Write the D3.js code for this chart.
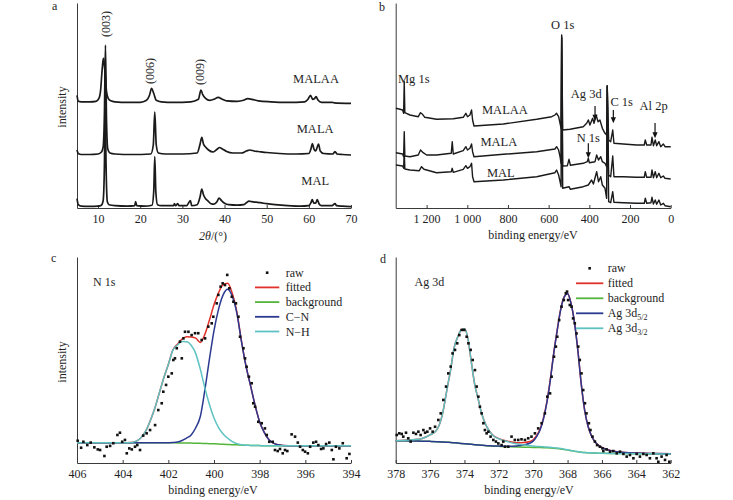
<!DOCTYPE html>
<html><head><meta charset="utf-8">
<script src="https://cdn.jsdelivr.net/npm/d3@7"></script>
<style>body{margin:0;background:#fff}</style>
</head><body>
<script>
// ---------------- DATA ----------------
// Panel a: XRD patterns [2theta, intensity above own baseline]
const xrdNames = ["MAL", "MALA", "MALAA"];
const xrdOffsets = [1.3, 53, 104.7];
const xrdTicks = [10, 20, 30, 40, 50, 60, 70];
const xrdPeakLabels = ["(003)", "(006)", "(009)"];
const xrdMAL = [[5,8],[5.3,2],[6,0.5],[8,0.3],[10,0.5],[10.8,1.5],[11.2,6],[11.5,40],[11.7,100],[11.9,40],[12.2,5],[12.6,2],[14,1],[17,0.5],[18.7,1],[18.9,5],[19.2,1],[21,0.5],[22.8,1.5],[23.2,15],[23.45,50],[23.7,15],[24.1,2],[25,1],[27.9,1],[28.1,3],[28.4,1],[28.9,3],[29.2,1],[31,1],[31.9,6],[32.2,1],[33.5,2],[34.2,10],[34.6,17.7],[35,12],[35.5,8],[36,6],[36.8,3],[37.5,2.5],[38.2,5],[38.7,8.5],[39.3,6],[40,3.5],[41,2],[43,1.5],[44.5,2],[45.2,4],[45.8,5.5],[46.5,5],[47.5,4.5],[48.5,4],[50,3],[52,2],[55,1],[58,0.5],[60,1],[60.5,4],[60.8,7],[61.2,3.5],[61.6,3.5],[62,7],[62.4,3],[63,1],[65.5,1],[66.2,3],[66.6,1],[68,0.5],[70,0]];
const xrdMALA = [[5,5],[5.3,1.5],[6,0.5],[8,0.5],[10,1],[10.8,3],[11.2,8],[11.5,40],[11.75,110],[12,35],[12.3,6],[12.8,2],[14,1],[18,0.5],[22.5,1],[23.1,10],[23.45,43],[23.8,10],[24.3,2],[26,1],[30,1],[33.5,2],[34.2,11],[34.6,17.7],[35,11],[35.5,8],[36.2,5],[37.3,3],[38.3,6],[38.8,7.5],[39.5,6],[40.5,3.5],[42,2],[44,2],[45.2,4],[46,5],[47,4],[48,3.5],[50,2.5],[53,1.5],[57,1],[60,1.5],[60.5,6],[60.85,11.5],[61.2,6],[61.6,4],[62,8],[62.3,11],[62.7,4],[63.5,1.5],[65.7,1],[66.2,3.5],[66.7,1],[68,0.5],[70,0]];
const xrdMALAA = [[5,8],[5.3,2],[6,1.5],[8,1.5],[9.5,2],[10.2,5],[10.6,13],[10.9,30],[11.15,42],[11.3,45],[11.45,40],[11.7,28],[12,12],[12.4,5],[13,2.5],[14,1.5],[17,1],[20,1],[21.5,3],[22.2,8],[22.7,15],[23.2,10],[23.8,3],[25,1.5],[28,1],[32,1.5],[33.8,4],[34.4,13.3],[34.8,9],[35.5,5],[36.5,3],[37.5,4],[38.5,6],[39.5,4],[40.5,2.5],[43,2],[44.5,3],[45.5,4.7],[46.5,4],[48,2.5],[51,1.5],[55,1],[59,1.5],[59.8,4],[60.4,8],[60.9,4],[61.3,4.5],[61.7,6.7],[62.2,3],[63,1],[65.5,1],[66,0.5],[70,0]];

// Panel b: XPS survey [binding energy, intensity]
const surveyTicks = [1200, 1000, 800, 600, 400, 200, 0];
const surveyNames = ["MAL", "MALA", "MALAA"];
const surveyMALAA = [[1351,99.7],[1331,98.7],[1318,98],[1313,94.7],[1310,126.3],[1307,95.3],[1282,93],[1241,91.3],[1230,95.3],[1220,93.7],[1209,90.7],[1151,88.7],[1069,89.3],[1020,90.7],[1007,94.7],[999,91.3],[987,93],[979,98],[974,88],[967,82],[823,84],[659,88.7],[585,91.3],[569,93],[561,94.7],[551,91.3],[544,84.7],[539,79.7],[536,173],[531,78],[495,78.7],[430,81.3],[413,84.7],[405,88],[397,83],[384,89.7],[377,84.7],[367,93],[357,86.3],[348,88],[336,79.7],[323,74.7],[315,73],[312,122],[305,68],[295,66.3],[285,78],[279,64.7],[233,64],[168,63],[130,63],[125,68],[118,63],[97,63],[92,70.7],[85,62.3],[76,68],[69,62.3],[58,66.3],[49,61.3],[36,64],[28,61.3],[0,61.3]];
const surveyMALA = [[1351,55.3],[1318,54],[1313,51.3],[1310,76.3],[1307,52],[1282,51.3],[1241,53],[1230,58],[1217,55.3],[1200,53],[1151,53],[1079,54.7],[1074,66.3],[1069,54],[1020,57.3],[1007,61.3],[999,58],[987,59.7],[979,64],[974,56.3],[967,51.3],[823,53.7],[659,56.3],[569,59],[561,61.3],[551,58],[544,51.3],[539,44.7],[536,171.3],[531,42],[508,42.3],[500,48.7],[493,42.7],[430,44.7],[410,46.3],[405,49.7],[400,45.3],[372,46.3],[364,53],[355,48],[344,51.3],[336,46.3],[323,44.7],[315,41.3],[312,122],[305,33],[295,31.3],[285,52],[279,31.3],[233,31.3],[168,30.7],[130,30.7],[125,36.3],[118,30.7],[97,30.7],[92,38],[85,30.3],[76,36.3],[69,30.3],[58,34.7],[49,30.3],[36,32],[28,29.7],[0,29]];
const surveyMAL = [[1351,43],[1318,42],[1313,39.7],[1310,56.3],[1307,39],[1282,38],[1236,37.3],[1225,41.3],[1213,38.7],[1151,35.3],[1079,36.3],[1074,39.7],[1069,35.7],[1020,38.7],[1007,42.3],[999,39.7],[987,41.3],[979,44.7],[974,31.3],[967,26.3],[823,28],[659,31.3],[569,35.3],[561,38],[551,33],[544,26.3],[539,21.3],[536,169.7],[531,19.7],[500,21.3],[493,18.7],[430,21.3],[405,23],[389,28],[380,24],[364,36.3],[355,26.3],[344,31.3],[336,23],[323,19.7],[315,9.7],[312,122],[305,6.3],[295,5.3],[285,16.3],[279,5.7],[233,5.3],[168,4.7],[130,4.7],[125,9.7],[118,4.7],[97,5.3],[92,10.7],[85,4],[76,8],[69,3.7],[58,8],[49,3],[36,4.7],[28,2.3],[0,1.3]];

// Panel c: N 1s high-resolution
const n1sTicks = [406, 404, 402, 400, 398, 396, 394];
const n1sBE = [406,405,404,403.6,403.4,403.2,403.0,402.8,402.6,402.4,402.2,402.0,401.8,401.6,401.4,401.2,401.0,400.8,400.6,400.4,400.2,400.0,399.8,399.6,399.4,399.2,399.0,398.8,398.6,398.4,398.2,398.0,397.8,397.6,397.4,397.2,397.0,396.5,396,395,394];
const n1sBackground = [9.8,9.8,9.8,9.8,9.8,9.8,9.8,9.8,9.8,9.8,9.8,9.8,9.8,9.75,9.75,9.7,9.65,9.6,9.55,9.45,9.4,9.3,9.2,9.1,9.0,8.9,8.8,8.7,8.65,8.55,8.5,8.45,8.4,8.4,8.4,8.35,8.35,8.35,8.35,8.35,8.35];
const n1sNH = [9.8,9.8,9.8,10.0,10.6,12.3,15.3,20.3,26.3,33.8,41.3,47.8,54.8,57.25,58.95,58.9,57.15,53.1,45.55,36.45,28.4,21.8,17.2,14.1,12.0,10.4,9.4,8.9,8.65,8.55,8.5,8.45,8.4,8.4,8.4,8.35,8.35,8.35,8.35,8.35,8.35];
const n1sCN = [9.8,9.8,9.8,9.8,9.8,9.8,9.8,9.8,9.8,9.8,9.8,9.85,9.95,10.2,10.95,12.1,13.65,17.1,22.55,35.45,50.4,64.3,74.7,81.6,84.3,80.9,72.8,59.2,47.15,37.55,28.0,19.95,14.9,11.4,9.6,8.85,8.55,8.35,8.35,8.35,8.35];
const n1sFitted = [9.8,9.8,9.8,10.0,10.6,12.3,15.3,20.3,26.3,33.8,41.3,47.85,54.95,57.7,60.15,61.3,61.15,60.6,58.55,62.45,69.4,76.8,82.7,86.6,87.3,82.4,73.4,59.4,47.15,37.55,28.0,19.95,14.9,11.4,9.6,8.85,8.55,8.35,8.35,8.35,8.35];
const n1sRaw = [[405.97,10.8],[405.82,7.4],[405.72,10.3],[405.55,8.7],[405.40,9.9],[405.24,7.6],[405.09,6.6],[404.99,6.3],[404.80,3.4],[404.70,7.9],[404.55,8.3],[404.41,9.6],[404.23,13.6],[404.12,14.7],[404.02,10.3],[403.90,11.2],[403.82,4.7],[403.71,7.1],[403.60,6.6],[403.46,7.9],[403.36,8.7],[403.24,6.3],[403.10,13.3],[402.95,14.4],[402.80,16.0],[402.58,18.4],[402.44,25.7],[402.29,29.0],[402.22,34.6],[402.10,37.9],[402.0,41.9],[401.85,43.5],[401.78,50.0],[401.71,50.8],[401.63,55.7],[401.49,58.9],[401.41,50.8],[401.34,60.5],[401.27,63.7],[401.12,63.7],[400.98,62.1],[400.83,63.0],[400.69,63.0],[400.54,59.7],[400.39,60.5],[400.25,66.2],[400.10,67.8],[400.03,71.0],[399.88,77.5],[399.81,81.6],[399.71,85.6],[399.62,87.2],[399.52,86.4],[399.42,91.3],[399.33,84.8],[399.22,80.7],[399.15,78.3],[399.04,77.5],[398.93,71.0],[398.86,61.3],[398.71,55.7],[398.64,50.8],[398.57,46.7],[398.47,41.9],[398.35,38.7],[398.28,29.0],[398.20,27.3],[398.06,20.0],[397.91,19.3],[397.77,16.8],[397.69,13.6],[397.58,10.3],[397.43,10.3],[397.33,6.3],[397.21,5.8],[397.11,6.8],[396.99,4.7],[396.89,6.3],[396.79,5.8],[396.60,13.9],[396.45,12.8],[396.33,9.9],[396.23,7.9],[396.11,6.3],[396.01,5.5],[395.89,4.7],[395.79,7.9],[395.65,9.9],[395.53,10.3],[395.43,8.7],[395.31,6.8],[395.21,7.1],[395.09,9.2],[394.95,9.9],[394.84,6.3],[394.77,1.8],[394.66,7.9],[394.51,7.1],[394.36,9.6],[394.19,2.3],[394.07,4.4]];

// Panel d: Ag 3d high-resolution
const ag3dTicks = [378, 376, 374, 372, 370, 368, 366, 364, 362];
const ag3dBE = [378,377.5,377,376.5,376,375.6,375.3,375.0,374.8,374.6,374.4,374.2,374.0,373.8,373.6,373.4,373.2,373.0,372.7,372.4,372.0,371.5,371.0,370.5,370.2,370.0,369.8,369.6,369.4,369.2,369.0,368.8,368.6,368.4,368.2,368.0,367.8,367.6,367.4,367.2,367.0,366.8,366.6,366.4,366.2,366.0,365.5,365,364,363,362];
const ag3dBackground = [10.8,10.75,10.7,10.6,10.5,10.35,10.2,10.05,9.95,9.8,9.65,9.5,9.35,9.2,9.05,8.9,8.75,8.6,8.4,8.25,8.1,7.9,7.75,7.65,7.6,7.55,7.5,7.47,7.43,7.38,7.3,7.2,7.05,6.85,6.6,6.3,6.0,5.7,5.45,5.2,5.05,4.95,4.85,4.8,4.75,4.7,4.65,4.6,4.5,4.45,4.4];
const ag3d32 = [10.8,11.0,11.3,11.8,13.6,16.2,23,36.5,45.5,56,61,64.5,65.2,60.5,49,38,31,24,17.5,13.85,11.7,10.4,9.3,8.7,8.4,8.2,8.05,7.95,7.85,7.75,7.6,7.45,7.25,7.0,6.72,6.4,6.08,5.76,5.5,5.24,5.08,4.98,4.88,4.83,4.78,4.72,4.67,4.61,4.5,4.45,4.4];
const ag3d52 = [10.8,10.75,10.7,10.6,10.5,10.35,10.2,10.05,9.95,9.8,9.65,9.5,9.35,9.2,9.05,8.9,8.75,8.6,8.4,8.3,8.2,8.1,8.3,8.9,9.6,10.6,12.8,16.0,21.5,29.5,40.5,53.5,64.5,74.5,80.5,82.2,77.5,68.3,54.5,38,25.3,17.6,13,10.2,8.5,7.5,6.0,5.3,4.8,4.6,4.5];
const ag3dFitted = [10.8,11.0,11.3,11.8,13.6,16.2,23,36.5,45.5,56,61,64.5,65.2,60.5,49,38,31,24,17.5,13.9,11.8,10.6,9.85,9.95,10.4,11.25,13.35,16.48,21.92,29.87,40.8,53.75,64.7,74.65,80.62,82.3,77.58,68.36,54.55,38.04,25.33,17.63,13.03,10.23,8.53,7.52,6.02,5.31,4.8,4.6,4.5];
const ag3dRaw = [[377.94,13.6],[377.79,14.4],[377.65,14.1],[377.56,12.8],[377.40,14.7],[377.27,12.0],[377.13,10.4],[376.97,14.7],[376.82,14.1],[376.68,15.2],[376.55,13.6],[376.39,16.0],[376.29,14.7],[376.16,15.2],[376.0,16.8],[375.85,15.2],[375.71,17.6],[375.52,20.9],[375.38,24.1],[375.23,30.6],[375.07,37.1],[374.94,43.5],[374.80,46.8],[374.69,53.2],[374.55,54.9],[374.42,58.1],[374.30,62.1],[374.16,64.6],[374.01,64.6],[373.87,61.3],[373.77,58.1],[373.64,54.9],[373.52,50.0],[373.39,45.1],[373.29,37.1],[373.19,32.2],[373.10,27.3],[373.0,24.1],[372.90,19.3],[372.81,16.0],[372.71,14.4],[372.61,15.2],[372.48,12.8],[372.32,11.2],[372.17,10.4],[372.03,9.5],[371.84,8.7],[371.74,10.4],[371.64,7.9],[371.45,7.9],[371.26,12.8],[371.07,11.2],[370.87,11.2],[370.68,11.5],[370.48,11.2],[370.29,12.0],[370.10,12.8],[369.90,14.4],[369.71,16.8],[369.51,19.3],[369.32,24.1],[369.18,32.2],[369.02,33.8],[368.93,41.9],[368.79,51.6],[368.68,56.5],[368.60,61.3],[368.49,69.4],[368.35,75.9],[368.22,79.1],[368.10,82.4],[368.03,83.2],[367.97,79.1],[367.87,76.7],[367.77,75.9],[367.68,70.2],[367.58,67.8],[367.48,62.9],[367.38,56.5],[367.29,50.0],[367.19,43.5],[367.09,35.4],[366.99,29.0],[366.90,24.1],[366.76,19.3],[366.67,16.0],[366.55,12.8],[366.41,10.4],[366.28,8.7],[366.12,7.9],[365.97,7.1],[365.92,5.8],[365.73,6.6],[365.53,5.5],[365.34,5.8],[365.14,4.7],[364.95,5.5],[364.75,4.4],[364.56,3.1],[364.37,3.9],[364.17,2.3],[363.98,4.4],[363.79,3.1],[363.59,4.4],[363.40,3.9],[363.21,2.3],[363.01,4.7],[362.82,2.3],[362.72,0.6],[362.53,3.1],[362.33,1.5],[362.24,3.9],[362.08,0.6]];

// ---------------- DRAWING ----------------
const SERIF = '"Liberation Serif","Times New Roman",serif';
const INK = "#1e1e1e";
const COL = {fitted: "#e2312b", background: "#53b53a", comp1: "#2b3990", comp2: "#5ec2c2"};
const svg = d3.select("body").append("svg").attr("width", 733).attr("height", 500)
  .attr("font-family", SERIF);

function axes(x, y, ticks, fmt) {
  const gx = svg.append("g").attr("transform", `translate(0,${y.range()[0]})`)
    .call(d3.axisBottom(x).tickValues(ticks).tickFormat(fmt).tickSize(-3).tickSizeOuter(0));
  gx.attr("font-family", SERIF).attr("font-size", 12);
  gx.selectAll("path,line").attr("stroke", "#3a3a3a");
  gx.selectAll(".tick text").attr("y", 15).attr("dy", 0).attr("fill", INK);
  const gy = svg.append("g").attr("transform", `translate(${x.range()[0]},0)`)
    .call(d3.axisLeft(y).tickValues([]).tickSizeOuter(0));
  gy.select(".domain").attr("stroke", "#3a3a3a");
}
function text(x, y, s, opts = {}) {
  const t = svg.append("text").attr("x", x).attr("y", y).text(s)
    .attr("font-size", opts.size || 12).attr("fill", INK)
    .attr("text-anchor", opts.anchor || "start");
  if (opts.rotate) t.attr("transform", `rotate(-90,${x},${y})`);
  if (opts.italic) t.attr("font-style", "italic");
  return t;
}

// ---- Panel a ----
const xa = d3.scaleLinear().domain([5, 70]).range([77, 351]);
const ya = d3.scaleLinear().domain([0, 205]).range([208, 3]);
axes(xa, ya, xrdTicks, d3.format("d"));
const lineA = (off) => d3.line().x(d => xa(d[0])).y(d => ya(d[1] + off)).curve(d3.curveMonotoneX);
[xrdMAL, xrdMALA, xrdMALAA].forEach((s, i) => {
  svg.append("path").datum(s).attr("d", lineA(xrdOffsets[i])).attr("fill", "none")
    .attr("stroke", "#1a1a1a").attr("stroke-width", 1.7).attr("stroke-linejoin", "round");
});
const xrdLabelPos = [[61.5, 23], [61.5, 75], [61.7, 125]];
xrdNames.forEach((n, i) => text(xa(xrdLabelPos[i][0]), ya(xrdLabelPos[i][1]), n, {anchor: "middle", size: 12.5}));
const peakPos = [[12.8, 184], [23.2, 137], [35.1, 136]];
xrdPeakLabels.forEach((n, i) => text(xa(peakPos[i][0]), ya(peakPos[i][1]), n, {anchor: "middle", rotate: true}));
text(52, 10, "a");
text(66, 107, "intensity", {anchor: "middle", rotate: true});
{
  const t = svg.append("text").attr("x", 213).attr("y", 240).attr("text-anchor", "middle")
    .attr("font-size", 12).attr("fill", INK);
  t.append("tspan").attr("font-style", "italic").text("2θ");
  t.append("tspan").text("/(°)");
}

// ---- Panel b ----
const xb = d3.scaleLinear().domain([1352, 0]).range([395.7, 670.7]);
const yb = d3.scaleLinear().domain([0, 205]).range([208, 3]);
const spaceFmt = d => d >= 1000 ? String(d).replace(/(\d)(\d{3})$/, "$1 $2") : String(d);
axes(xb, yb, surveyTicks, spaceFmt);
const lineB = d3.line().x(d => xb(d[0])).y(d => yb(d[1]));
[surveyMAL, surveyMALA, surveyMALAA].forEach(s => {
  svg.append("path").datum(s).attr("d", lineB).attr("fill", "none")
    .attr("stroke", "#1a1a1a").attr("stroke-width", 1.4).attr("stroke-linejoin", "round");
});
const surveyLabelPos = [[835, 31], [845, 62.3], [815, 94]];
surveyNames.forEach((n, i) => text(xb(surveyLabelPos[i][0]), yb(surveyLabelPos[i][1]), n, {anchor: "middle", size: 12.5}));
const peakNotes = [
  {s: "Mg 1s", be: 1263, v: 124.7},
  {s: "O 1s", be: 531, v: 178.7},
  {s: "Ag 3d", be: 415, v: 109.7},
  {s: "C 1s", be: 241, v: 102},
  {s: "Al 2p", be: 84, v: 98},
  {s: "N 1s", be: 405, v: 66.3}
];
peakNotes.forEach(p => text(xb(p.be), yb(p.v), p.s, {anchor: "middle", size: 12.5}));
const arrows = [[372, 102, 87.3], [282, 98, 84.7], [77, 85, 69.7], [405, 64.7, 49.7]];
arrows.forEach(a => {
  const X = xb(a[0]), Y1 = yb(a[1]), Y2 = yb(a[2]);
  svg.append("line").attr("x1", X).attr("x2", X).attr("y1", Y1).attr("y2", Y2 - 5)
    .attr("stroke", "#111").attr("stroke-width", 1.2);
  svg.append("path").attr("d", `M${X - 2.6},${Y2 - 6}L${X + 2.6},${Y2 - 6}L${X},${Y2}Z`).attr("fill", "#111");
});
text(379, 11, "b");
text(533, 239, "binding energy/eV", {anchor: "middle"});

// ---- fitted panels helper ----
function fitPanel(x, y, be, bg, comps, fitted, raw) {
  const ln = vals => d3.line().x((d, i) => x(be[i])).y(d => y(d)).curve(d3.curveMonotoneX)(vals);
  const draw = (vals, c) => svg.append("path").attr("d", ln(vals)).attr("fill", "none")
    .attr("stroke", c).attr("stroke-width", 1.5);
  draw(bg, COL.background);
  draw(fitted, COL.fitted);
  draw(comps[0], COL.comp1);
  draw(comps[1], COL.comp2);
  svg.append("g").selectAll("rect").data(raw).join("rect")
    .attr("x", d => x(d[0]) - 1.3).attr("y", d => y(d[1]) - 1.3)
    .attr("width", 2.6).attr("height", 2.6).attr("fill", "#111");
}
function legend(x0, x1, tx, y0, dy, labels) {
  const cols = [null, COL.fitted, COL.background, COL.comp1, COL.comp2];
  labels.forEach((l, i) => {
    const yy = y0 + i * dy;
    if (i === 0) {
      svg.append("rect").attr("x", (x0 + x1) / 2 - 1.3).attr("y", yy - 1.3).attr("width", 2.6).attr("height", 2.6).attr("fill", "#111");
    } else {
      svg.append("line").attr("x1", x0).attr("x2", x1).attr("y1", yy).attr("y2", yy)
        .attr("stroke", cols[i]).attr("stroke-width", 1.8);
    }
    const t = svg.append("text").attr("x", tx).attr("y", yy + 4).attr("font-size", 12).attr("fill", INK);
    t.append("tspan").text(l[0]);
    if (l[1]) t.append("tspan").attr("font-size", 8).attr("dy", 3).text(l[1]);
  });
}

// ---- Panel c ----
const xc = d3.scaleLinear().domain([406, 394]).range([77, 351]);
const yc = d3.scaleLinear().domain([0, 100]).range([463, 257]);
axes(xc, yc, n1sTicks, d3.format("d"));
fitPanel(xc, yc, n1sBE, n1sBackground, [n1sCN, n1sNH], n1sFitted, n1sRaw);
legend(255, 279.3, 285.7, 272.7, 14.7, [["raw"], ["fitted"], ["background"], ["C−N"], ["N−H"]]);
text(xc(405.3), yc(85.9), "N 1s");
text(51, 262, "c");
text(66, 362, "intensity", {anchor: "middle", rotate: true});
text(213, 494, "binding energy/eV", {anchor: "middle"});

// ---- Panel d ----
const xd = d3.scaleLinear().domain([378, 362]).range([395.7, 670.7]);
const yd = d3.scaleLinear().domain([0, 100]).range([463, 257]);
axes(xd, yd, ag3dTicks, d3.format("d"));
fitPanel(xd, yd, ag3dBE, ag3dBackground, [ag3d52, ag3d32], ag3dFitted, ag3dRaw);
legend(576, 603.3, 607.7, 268.3, 15, [["raw"], ["fitted"], ["background"], ["Ag 3d", "5/2"], ["Ag 3d", "3/2"]]);
text(xd(376.9), yd(85.9), "Ag 3d");
text(380, 263, "d");
text(529, 494, "binding energy/eV", {anchor: "middle"});
</script>
</body></html>
